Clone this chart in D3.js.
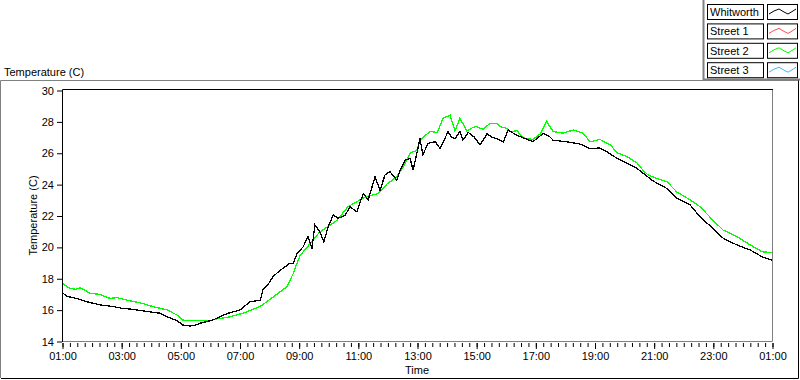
<!DOCTYPE html>
<html>
<head>
<meta charset="utf-8">
<script src="https://cdn.jsdelivr.net/npm/d3@7"></script>
<style>
  body { margin: 0; background: #fff; }
  svg text, .tick text { font-family: "Liberation Sans", Arial, sans-serif; font-size: 11px; fill: #000; }
</style>
</head>
<body>
<svg id="chart" width="800" height="380"></svg>
<script>
// legend entries
const seriesNames = ["Whitworth", "Street 1", "Street 2", "Street 3"];
const seriesColors = ["#000000", "#ff4d4d", "#00ff00", "#33bbff"];

// minutes after 01:00, temperature (C)
const whitworthMinutes = [0, 10, 37, 51, 77, 103, 122, 144, 168, 199, 213, 233, 245, 260, 274, 280, 306, 335, 361, 381,
  402, 408, 418, 428, 442, 448, 462, 469, 477, 489, 499, 507, 513, 523, 531, 540, 550, 560, 574, 584,
  598, 611, 621, 635, 645, 655, 665, 679, 686, 696, 706, 712, 720, 726, 732, 742, 757, 767, 783, 790,
  797, 807, 813, 824, 836, 848, 862, 872, 882, 895, 905, 923, 940, 955, 976, 990, 996, 1024, 1051, 1071,
  1091, 1105, 1126, 1146, 1166, 1188, 1199, 1227, 1247, 1274, 1294, 1320, 1341, 1369, 1396, 1420, 1440];
const whitworthTemps = [17.1, 16.85, 16.65, 16.5, 16.3, 16.2, 16.08, 16.02, 15.9, 15.77, 15.55, 15.3, 15.02, 14.95, 15.04, 15.13, 15.34, 15.75, 15.98, 16.5,
  16.6, 17.3, 17.6, 18.1, 18.5, 18.63, 18.95, 18.95, 19.6, 20.0, 20.65, 19.9, 21.4, 20.96, 20.33, 21.29, 22.03, 21.82, 22.0, 22.56,
  22.24, 23.4, 23.0, 24.47, 23.6, 24.58, 24.8, 24.26, 24.9, 25.54, 25.64, 24.9, 26.0, 26.9, 25.86, 26.6, 26.7, 26.27, 27.35, 27.0,
  26.9, 27.35, 26.8, 27.3, 27.0, 26.5, 27.2, 27.0, 26.9, 26.7, 27.45, 27.1, 26.9, 26.7, 27.23, 27.0, 26.8, 26.7, 26.55, 26.27,
  26.3, 26.06, 25.64, 25.32, 25.0, 24.47, 24.2, 23.72, 23.09, 22.67, 21.92, 21.18, 20.55, 20.12, 19.8, 19.37, 19.16];

const street2Minutes = [0, 16, 28, 37, 57, 77, 97, 112, 132, 158, 185, 213, 233, 245, 254, 300, 312, 335, 367, 402,
  428, 456, 469, 477, 483, 503, 523, 540, 558, 580, 604, 618, 641, 659, 679, 692, 706, 720, 726, 746,
  761, 773, 787, 797, 807, 821, 833, 840, 854, 868, 882, 888, 903, 909, 923, 935, 955, 970, 983, 996,
  1016, 1037, 1057, 1071, 1091, 1112, 1126, 1146, 1166, 1178, 1188, 1207, 1227, 1247, 1274, 1294, 1320, 1341, 1369, 1396,
  1420, 1440];
const street2Temps = [17.68, 17.36, 17.3, 17.4, 17.04, 16.97, 16.72, 16.76, 16.6, 16.44, 16.19, 15.98, 15.66, 15.34, 15.3, 15.3, 15.4, 15.5, 15.77, 16.2,
  16.8, 17.46, 18.3, 19.0, 19.45, 20.2, 20.96, 21.3, 21.7, 22.56, 22.99, 23.2, 23.4, 24.0, 24.47, 25.1, 25.96, 26.17, 26.8, 27.35,
  27.3, 28.2, 28.4, 27.4, 28.2, 27.4, 27.6, 27.67, 27.5, 27.87, 27.87, 27.67, 27.55, 27.35, 27.4, 26.95, 26.85, 27.2, 28.0, 27.35,
  27.25, 27.45, 27.25, 26.7, 26.85, 26.5, 26.0, 25.75, 25.35, 24.9, 24.6, 24.36, 24.15, 23.5, 23.0, 22.56, 21.71, 21.07, 20.65, 20.12,
  19.69, 19.63];

const yTicks = [14, 16, 18, 20, 22, 24, 26, 28, 30];
const xTickLabels = ["01:00", "03:00", "05:00", "07:00", "09:00", "11:00", "13:00", "15:00", "17:00", "19:00", "21:00", "23:00", "01:00"];

const svg = d3.select("#chart");
const plot = { left: 62, right: 772, top: 90, bottom: 341 };

// outer sunken frame
svg.append("path").attr("d", "M0.5,378 V80.5 H798").attr("fill", "none").attr("stroke", "#808080");
svg.append("path").attr("d", "M1,378.5 H798.5 V80").attr("fill", "none").attr("stroke", "#000");

svg.append("text").attr("x", 4).attr("y", 76).text("Temperature (C)");

const x = d3.scaleLinear().domain([0, 1440]).range([plot.left, plot.right]);
const y = d3.scaleLinear().domain([14, 30]).range([plot.bottom, plot.top]);

// plot box: black top/left, gray bottom/right
svg.append("path").attr("d", `M${plot.left + 0.5},${plot.bottom + 1} V${plot.top - 0.5} H${plot.right + 1}`)
  .attr("fill", "none").attr("stroke", "#000");
svg.append("path").attr("d", `M${plot.left + 1},${plot.bottom + 0.5} H${plot.right + 0.5} V${plot.top}`)
  .attr("fill", "none").attr("stroke", "#808080");

// y axis
const yAxis = svg.append("g")
  .attr("transform", `translate(${plot.left},0.5)`)
  .call(d3.axisLeft(y).tickValues(yTicks).tickSize(5).tickPadding(3));
yAxis.select(".domain").remove();

// x axis: minor ticks every 15 min, labelled ticks every 2 h
const xMinor = svg.append("g")
  .attr("transform", `translate(0.5,${plot.bottom + 2})`)
  .call(d3.axisBottom(x).tickValues(d3.range(0, 1441, 15)).tickSize(4).tickFormat(""));
xMinor.select(".domain").remove();
const xMajor = svg.append("g")
  .attr("transform", `translate(0.5,${plot.bottom + 2})`)
  .call(d3.axisBottom(x).tickValues(d3.range(0, 1441, 120)).tickSize(6).tickPadding(3)
    .tickFormat((d, i) => xTickLabels[i]));
xMajor.select(".domain").remove();

svg.append("text").attr("x", (plot.left + plot.right) / 2).attr("y", 374)
  .attr("text-anchor", "middle").text("Time");
svg.append("text").attr("transform", `translate(37,${(plot.top + plot.bottom) / 2}) rotate(-90)`)
  .attr("text-anchor", "middle").text("Temperature (C)");

// lines
svg.append("clipPath").attr("id", "clip").append("rect")
  .attr("x", plot.left + 1).attr("y", plot.top).attr("width", plot.right - plot.left - 1).attr("height", plot.bottom - plot.top);

const line = d3.line().x(d => x(d[0])).y(d => y(d[1]));
const lines = svg.append("g").attr("clip-path", "url(#clip)");
lines.append("path")
  .datum(d3.zip(street2Minutes, street2Temps))
  .attr("d", line).attr("fill", "none").attr("stroke", seriesColors[2])
  .attr("stroke-width", 1.3).attr("shape-rendering", "crispEdges");
lines.append("path")
  .datum(d3.zip(whitworthMinutes, whitworthTemps))
  .attr("d", line).attr("fill", "none").attr("stroke", seriesColors[0])
  .attr("stroke-width", 1.3).attr("shape-rendering", "crispEdges");

// legend
svg.append("path").attr("d", "M703.5,0 V79.5 H800").attr("fill", "none").attr("stroke", "#808080").attr("stroke-width", 2);
const zig = [[2, 9], [7, 6], [12, 4], [17, 7], [21, 9], [26, 6], [29, 4]];
const leg = svg.append("g").selectAll("g").data(seriesNames).join("g")
  .attr("transform", (d, i) => `translate(707,${4 + i * 19.4})`);
leg.append("rect").attr("x", 0.5).attr("y", 0.5).attr("width", 56).attr("height", 15)
  .attr("fill", "#fff").attr("stroke", "#000");
leg.append("text").attr("x", 3).attr("y", 12).text(d => d);
leg.append("rect").attr("x", 60.5).attr("y", 0.5).attr("width", 30).attr("height", 15)
  .attr("fill", "#fff").attr("stroke", "#000");
leg.append("path")
  .attr("d", d3.line().x(p => 60 + p[0]).y(p => p[1] + 1)(zig))
  .attr("fill", "none").attr("stroke", (d, i) => seriesColors[i]);
</script>
</body>
</html>
